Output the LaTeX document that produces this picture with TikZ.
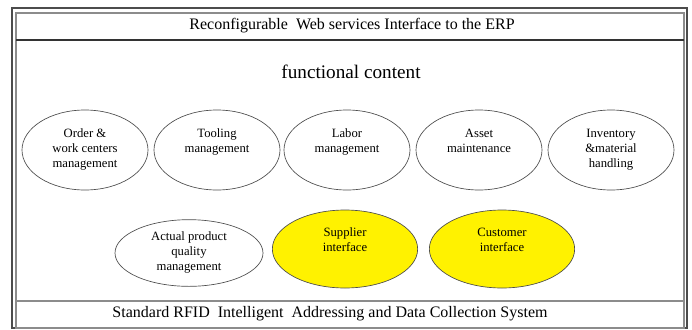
\documentclass[tikz,border=0pt]{standalone}
\usepackage{fontspec}
\setmainfont{Liberation Serif}
\usetikzlibrary{shapes.geometric}
\newcommand\ovaltext[1]{\begin{tabular}[t]{@{}c@{}}#1\end{tabular}}

\begin{document}
\begin{tikzpicture}[x=0.75pt,y=-0.75pt,
  frame/.style={draw=black!70,line width=1.1pt},
  inframe/.style={draw=black!45,line width=0.9pt},
  oval/.style={ellipse,draw=black!70,line width=0.5pt,inner sep=0pt,
    minimum width=94.5pt,minimum height=60pt,
    font=\fontsize{9.5}{11.25}\selectfont,text height=8pt,text depth=27pt},
  hilite/.style={oval,fill=yellow,minimum width=109pt,minimum height=58.5pt},
  band/.style={font=\fontsize{12}{14}\selectfont}
  ]
\def\rowa{150}
\def\rowb{249}
\useasboundingbox (0,0) rectangle (692,329);
\draw[frame] (12,8) rectangle (687,328);
\draw[inframe] (16,13) rectangle (684,328);
\draw[black!80,line width=0.8pt] (16,40) -- (684,40);
\draw[black!45,line width=1.2pt] (16,301) -- (684,301);
\node[band] (erp) at (352,26) {Reconfigurable\ \ Web services Interface to the ERP};
\node[font=\fontsize{14.4}{17}\selectfont] (func) at (351,72) {functional content};
\node[oval] (order) at (85,\rowa) {\ovaltext{Order \&\\work centers\\management}};
\node[oval] (tool) at (217,\rowa) {\ovaltext{Tooling\\management}};
\node[oval] (labor) at (347,\rowa) {\ovaltext{Labor\\management}};
\node[oval] (asset) at (479,\rowa) {\ovaltext{Asset\\maintenance}};
\node[oval] (inv) at (611,\rowa) {\ovaltext{Inventory\\\&material\\handling}};
\node[oval,minimum width=111pt,minimum height=50pt] (qual) at (189,253) {\ovaltext{Actual product\\quality\\management}};
\node[hilite] (supp) at (345,\rowb) {\ovaltext{Supplier\\interface}};
\node[hilite] (cust) at (502,\rowb) {\ovaltext{Customer\\interface}};
\node[band] (rfid) at (330,314) {Standard RFID\ \ Intelligent\ \ Addressing and Data Collection System};
\end{tikzpicture}
\end{document}
